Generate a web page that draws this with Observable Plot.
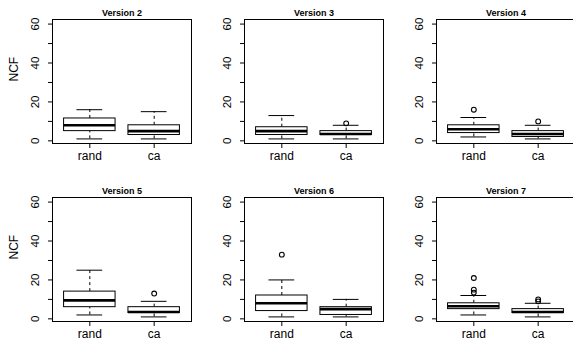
<!DOCTYPE html>
<html>
<head>
<meta charset="utf-8">
<script src="https://cdn.jsdelivr.net/npm/d3@7"></script>
<script src="https://cdn.jsdelivr.net/npm/@observablehq/plot@0.6"></script>
<style>
  html, body { margin: 0; padding: 0; background: #fff; }
  #chart { position: relative; width: 573px; height: 344px; overflow: hidden; background: #fff; }
  #chart svg { position: absolute; overflow: visible; }
</style>
</head>
<body>
<div id="chart"></div>
<script>
// ---- data ----
const versions = ["Version 2", "Version 3", "Version 4", "Version 5", "Version 6", "Version 7"];
const groups = ["rand", "ca"];
const yTickLabels = [0, 20, 40, 60];

// rand boxplot statistics per version
const randLow  = [1, 1, 2, 2, 1, 2];
const randQ1   = [5, 3, 4, 6, 4, 5];
const randMed  = [8, 5, 6, 9.5, 8, 6.5];
const randQ3   = [11.5, 7, 8, 14, 12, 8];
const randHigh = [16, 13, 12, 25, 20, 12];
const randOut  = [[], [], [16], [], [33], [13.5, 15, 21]];

// ca boxplot statistics per version
const caLow  = [1, 1, 1, 1, 1, 1];
const caQ1   = [3, 3, 2, 3, 2, 3];
const caMed  = [5, 3.5, 3.5, 3.5, 5, 3.5];
const caQ3   = [8, 5, 5, 6, 6, 5];
const caHigh = [15, 8, 8, 9, 10, 8];
const caOut  = [[], [9], [10], [13], [], [9, 10]];

// ---- drawing ----
const font = "'Liberation Sans', Arial, Helvetica, sans-serif";
const chart = document.getElementById("chart");

function panel(i) {
  const col = i % 3, row = Math.floor(i / 3);
  const boxes = [
    {x: 1, low: randLow[i], q1: randQ1[i], med: randMed[i], q3: randQ3[i], high: randHigh[i]},
    {x: 2, low: caLow[i], q1: caQ1[i], med: caMed[i], q3: caQ3[i], high: caHigh[i]}
  ];
  const outliers = [
    ...randOut[i].map(v => ({x: 1, y: v})),
    ...caOut[i].map(v => ({x: 2, y: v}))
  ];
  const marks = [
    Plot.ruleX(boxes, {x: "x", y1: "q3", y2: "high", stroke: "#000", strokeDasharray: "3,3"}),
    Plot.ruleX(boxes, {x: "x", y1: "low", y2: "q1", stroke: "#000", strokeDasharray: "3,3"}),
    Plot.ruleY(boxes, {y: "high", x1: d => d.x - 0.2, x2: d => d.x + 0.2, stroke: "#000"}),
    Plot.ruleY(boxes, {y: "low", x1: d => d.x - 0.2, x2: d => d.x + 0.2, stroke: "#000"}),
    Plot.rect(boxes, {x1: d => d.x - 0.4, x2: d => d.x + 0.4, y1: "q1", y2: "q3", fill: "#fff", stroke: "#000"}),
    Plot.ruleY(boxes, {y: "med", x1: d => d.x - 0.4, x2: d => d.x + 0.4, stroke: "#000", strokeWidth: 2.6}),
    Plot.dot(outliers, {x: "x", y: "y", r: 2.4, stroke: "#000", fill: "none", strokeWidth: 1.1}),
    Plot.frame({stroke: "#000"}),
    Plot.axisX({ticks: [1, 2], tickFormat: d => groups[d - 1], tickSize: 5, tickPadding: 3, fontSize: 12, label: null}),
    Plot.axisY({ticks: d3.range(0, 61, 10), tickSize: 4, tickFormat: () => "", label: null}),
    Plot.text(yTickLabels, {y: d => d, text: d => String(d), frameAnchor: "left", dx: -17, rotate: -90, textAnchor: "middle", fontSize: 11.5}),
    Plot.text([versions[i]], {text: d => d, frameAnchor: "top", dy: -10, fontWeight: "bold", fontSize: 9})
  ];
  if (col === 0) {
    marks.push(Plot.text(["NCF"], {text: d => d, frameAnchor: "left", dx: -38, rotate: -90, fontSize: 12}));
  }
  const svg = Plot.plot({
    width: 192,
    height: 19 + 124 + 35,
    marginLeft: 52,
    marginRight: 1,
    marginTop: 19,
    marginBottom: 35,
    x: {domain: [0.42, 2.58], axis: null},
    y: {domain: [-1.36, 62.36], axis: null},
    style: {fontFamily: font, color: "#000", background: "transparent", overflow: "visible"},
    marks
  });
  svg.style.left = (192 * col) + "px";
  svg.style.top = (178 * row) + "px";
  chart.appendChild(svg);
}

for (let i = 0; i < versions.length; i++) panel(i);
</script>
</body>
</html>
